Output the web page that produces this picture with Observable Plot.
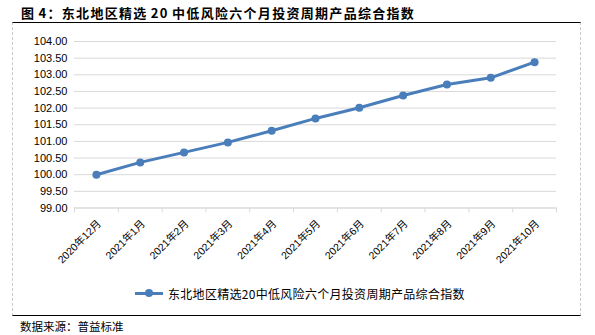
<!DOCTYPE html>
<html>
<head>
<meta charset="utf-8">
<script src="https://cdn.jsdelivr.net/npm/d3@7"></script>
<script src="https://cdn.jsdelivr.net/npm/@observablehq/plot@0.6"></script>
<style>
  html, body { margin: 0; padding: 0; background: #fff; }
  body { width: 595px; height: 335px; position: relative; overflow: hidden;
         font-family: "Liberation Sans", "Noto Sans CJK SC", sans-serif; color: #000; }
  #title { position: absolute; left: 21px; top: 3px; font-size: 13px; font-weight: bold;
           letter-spacing: 1.3px; word-spacing: -1px;
           font-family: "Noto Sans CJK SC", sans-serif; white-space: nowrap; line-height: 19px; }
  #frame { position: absolute; left: 12px; top: 22px; width: 567px; height: 291.5px;
           border-top: 1.5px solid #000; border-bottom: 1.5px solid #000;
           border-left: 1px dashed #c8c8c8; border-right: 1px dashed #c8c8c8; }
  #chart { position: absolute; left: 0; top: 0; }
  #legend { position: absolute; left: 135px; top: 284px; display: flex; align-items: center; height: 18px;
            font-size: 12px; letter-spacing: 0.3px; font-family: "Noto Sans CJK SC", sans-serif; white-space: nowrap; }
  #legend .sw { position: relative; width: 28px; height: 10px; margin-right: 5px; }
  #legend .sw .ln { position: absolute; left: 0; right: 0; top: 3.5px; height: 3px; background: #4a7ebb; }
  #legend .sw .dt { position: absolute; left: 9.5px; top: 1px; width: 8px; height: 8px; border-radius: 50%; background: #4a7ebb; }
  #source { position: absolute; left: 20px; top: 317px; font-size: 11.5px;
            font-family: "Noto Sans CJK SC", sans-serif; white-space: nowrap; line-height: 18px; }
</style>
</head>
<body>
<div id="title"></div>
<div id="frame"></div>
<div id="chart"></div>
<div id="legend"><div class="sw"><div class="ln"></div><div class="dt"></div></div><span id="legtext"></span></div>
<div id="source"></div>
<script>
const titleText = "图 4：东北地区精选 20 中低风险六个月投资周期产品综合指数";
const seriesName = "东北地区精选20中低风险六个月投资周期产品综合指数";
const sourceText = "数据来源：普益标准";
const months = ["2020年12月","2021年1月","2021年2月","2021年3月","2021年4月","2021年5月","2021年6月","2021年7月","2021年8月","2021年9月","2021年10月"];
const values = [100.00, 100.37, 100.67, 100.97, 101.32, 101.69, 102.01, 102.38, 102.71, 102.91, 103.38];
const yTicks = [99.0, 99.5, 100.0, 100.5, 101.0, 101.5, 102.0, 102.5, 103.0, 103.5, 104.0];

document.getElementById("title").textContent = titleText;
document.getElementById("legtext").textContent = seriesName;
document.getElementById("source").textContent = sourceText;

const data = months.map((m, i) => ({i, m, v: values[i]}));
const centers = months.map((_, i) => i);
const bounds = months.map((_, i) => i - 0.5).concat([months.length - 0.5]);
const color = "#4a7ebb";

const chart = Plot.plot({
  width: 595,
  height: 285,
  marginTop: 41,
  marginBottom: 77.5,
  marginLeft: 74,
  marginRight: 39,
  style: {fontFamily: "'Liberation Sans', 'Noto Sans CJK SC', sans-serif", fontSize: "11px", color: "#000", background: "transparent"},
  x: {type: "linear", domain: [-0.5, months.length - 0.5], axis: null},
  y: {domain: [99, 104], axis: null},
  marks: [
    Plot.gridY(yTicks, {stroke: "#d9d9d9", strokeOpacity: 1, strokeWidth: 1}),
    Plot.axisY(yTicks, {label: null, tickSize: 0, tickPadding: 7, tickFormat: d => d.toFixed(2), fontSize: 11, fill: "#000"}),
    Plot.ruleY([99], {stroke: "#d9d9d9", strokeWidth: 1}),
    Plot.axisX(bounds, {label: null, tickSize: 5, tickFormat: () => "", stroke: "#d9d9d9", strokeOpacity: 1}),
    Plot.axisX(centers, {label: null, tickSize: 0, tickPadding: 14, tickFormat: i => months[i], tickRotate: -45, fontSize: 10.5, fill: "#000", dx: 3}),
    Plot.line(data, {x: "i", y: "v", stroke: color, strokeWidth: 3}),
    Plot.dot(data, {x: "i", y: "v", r: 4, fill: color, stroke: "none"})
  ]
});
document.getElementById("chart").appendChild(chart);
</script>
</body>
</html>
